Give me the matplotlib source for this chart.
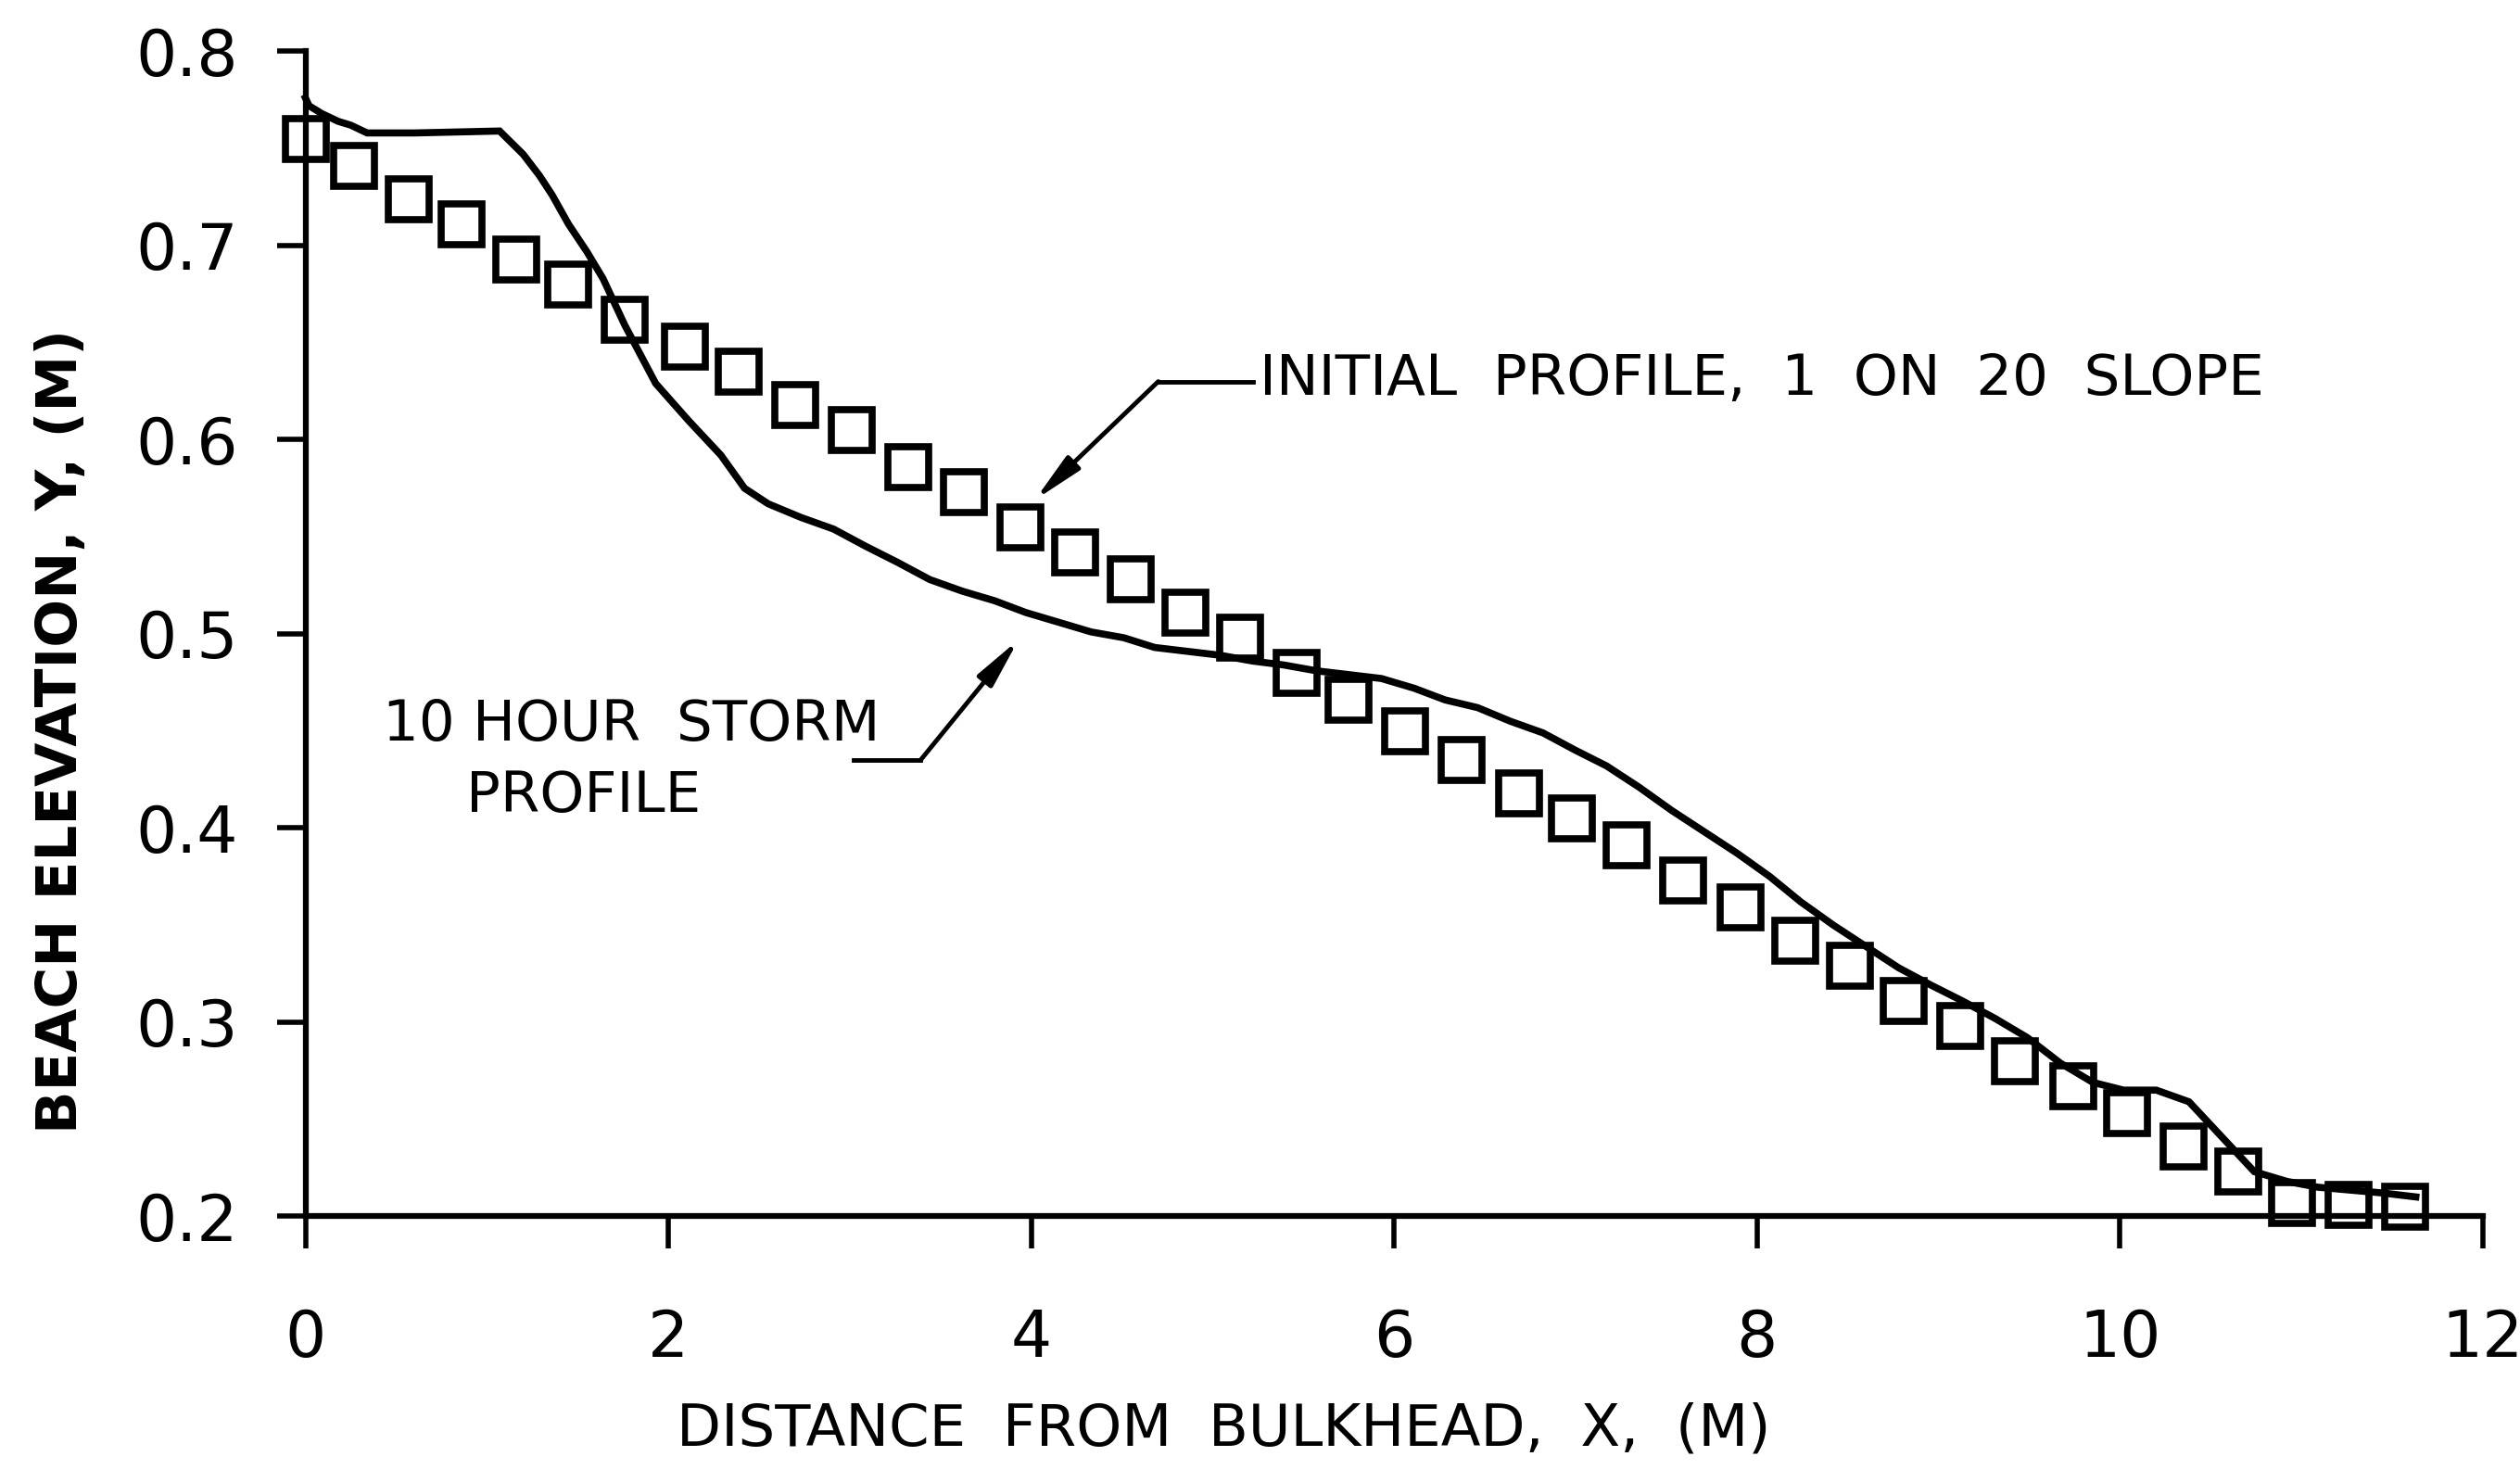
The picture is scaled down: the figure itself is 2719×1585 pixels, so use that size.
import matplotlib
matplotlib.use("Agg")
import matplotlib.pyplot as plt
from matplotlib import font_manager

names = {f.name for f in font_manager.fontManager.ttflist}
fam = 'Liberation Sans Narrow' if 'Liberation Sans Narrow' in names else 'DejaVu Sans'
plt.rcParams['font.family'] = [fam, 'DejaVu Sans']

# ---- data ----
initial_x = [0.00, 0.27, 0.57, 0.86, 1.16, 1.45, 1.76, 2.09, 2.39, 2.70, 3.01, 3.32, 3.63,
             3.94, 4.24, 4.55, 4.85, 5.15, 5.46, 5.75, 6.06, 6.37, 6.69, 6.98, 7.28, 7.59,
             7.91, 8.21, 8.51, 8.81, 9.12, 9.42, 9.74, 10.04, 10.35, 10.65, 10.95, 11.26, 11.57]
initial_y = [0.755, 0.741, 0.724, 0.711, 0.693, 0.680, 0.662, 0.648, 0.635, 0.618, 0.605,
             0.586, 0.573, 0.555, 0.542, 0.528, 0.511, 0.498, 0.480, 0.466, 0.450, 0.435,
             0.418, 0.405, 0.391, 0.373, 0.359, 0.342, 0.329, 0.311, 0.298, 0.280, 0.267,
             0.253, 0.236, 0.223, 0.207, 0.206, 0.205]

storm_x = [0.00, 0.02, 0.09, 0.18, 0.25, 0.34, 0.60, 1.07, 1.20, 1.29, 1.36, 1.45, 1.55,
           1.64, 1.76, 1.93, 2.11, 2.29, 2.42, 2.55, 2.73, 2.91, 3.09, 3.26, 3.44, 3.62,
           3.80, 3.97, 4.15, 4.33, 4.51, 4.68, 4.86, 5.04, 5.22, 5.39, 5.57, 5.75, 5.93,
           6.11, 6.28, 6.46, 6.64, 6.82, 7.00, 7.17, 7.35, 7.53, 7.71, 7.89, 8.07, 8.24,
           8.42, 8.60, 8.78, 8.96, 9.13, 9.31, 9.49, 9.67, 9.85, 10.02, 10.20, 10.38,
           10.56, 10.74, 10.92, 11.09, 11.27, 11.45, 11.63]
storm_y = [0.776, 0.772, 0.768, 0.764, 0.762, 0.758, 0.758, 0.759, 0.747, 0.736, 0.726,
           0.711, 0.697, 0.683, 0.659, 0.629, 0.610, 0.592, 0.575, 0.567, 0.560, 0.554,
           0.545, 0.537, 0.528, 0.522, 0.517, 0.511, 0.506, 0.501, 0.498, 0.493, 0.491,
           0.489, 0.486, 0.484, 0.481, 0.479, 0.477, 0.472, 0.466, 0.462, 0.455, 0.449,
           0.440, 0.432, 0.421, 0.409, 0.398, 0.387, 0.375, 0.362, 0.350, 0.339, 0.328,
           0.319, 0.311, 0.302, 0.292, 0.279, 0.269, 0.265, 0.265, 0.259, 0.241, 0.223,
           0.218, 0.215, 0.2135, 0.212, 0.210]

x_ticks = [0, 2, 4, 6, 8, 10, 12]
x_tick_labels = ["0", "2", "4", "6", "8", "10", "12"]
y_ticks = [0.2, 0.3, 0.4, 0.5, 0.6, 0.7, 0.8]
y_tick_labels = ["0.2", "0.3", "0.4", "0.5", "0.6", "0.7", "0.8"]

initial_label = "INITIAL  PROFILE,  1  ON  20  SLOPE"
storm_label_1 = "10 HOUR  STORM"
storm_label_2 = "PROFILE"
x_label = "DISTANCE  FROM  BULKHEAD,  X,  (M)"
y_label = "BEACH ELEVATION, Y, (M)"

# ---- figure ----
fig = plt.figure(figsize=(27.19, 15.85), dpi=100)
ax = fig.add_axes([0.1212, 0.172, 0.8641, 0.793])

ax.plot(storm_x, storm_y, color='black', lw=5.5, solid_joinstyle='miter', clip_on=False)
ax.plot(initial_x, initial_y, linestyle='none', marker='s', ms=31, mfc='none',
        mec='black', mew=5.5, clip_on=False)

ax.set_xlim(0, 12)
ax.set_ylim(0.2, 0.8)
for s in ['top', 'right']:
    ax.spines[s].set_visible(False)
for s in ['left', 'bottom']:
    ax.spines[s].set_linewidth(4.5)

ax.set_xticks(x_ticks)
ax.set_xticklabels(x_tick_labels)
ax.set_yticks(y_ticks)
ax.set_yticklabels(y_tick_labels)
ax.tick_params(axis='x', direction='out', length=25, width=4, pad=46, labelsize=50)
ax.tick_params(axis='y', direction='out', length=22, width=4, pad=30, labelsize=50)

# annotations
arrow_kw = dict(arrowstyle='-|>,head_length=1.6,head_width=0.3',
                mutation_scale=20, color='black', lw=3.5, shrinkA=0, shrinkB=0)
ax.text(5.26, 0.631, initial_label, fontsize=44, ha='left', va='center')
ax.plot([5.22, 4.70], [0.630, 0.630], color='black', lw=3.5)
ax.annotate('', xy=(4.02, 0.569), xytext=(4.70, 0.630), arrowprops=arrow_kw)

ax.text(0.426, 0.453, storm_label_1, fontsize=44, ha='left', va='center')
ax.text(0.887, 0.416, storm_label_2, fontsize=44, ha='left', va='center')
ax.plot([3.02, 3.39], [0.435, 0.435], color='black', lw=3.5)
ax.annotate('', xy=(3.93, 0.497), xytext=(3.39, 0.435), arrowprops=arrow_kw)

fig.text(0.4855, 0.027, x_label, fontsize=45, ha='center', va='center')
fig.text(0.0243, 0.502, y_label, fontsize=44, ha='center', va='center',
         rotation=90, fontweight='bold')

fig.savefig('out.png', dpi=100, facecolor='white')
